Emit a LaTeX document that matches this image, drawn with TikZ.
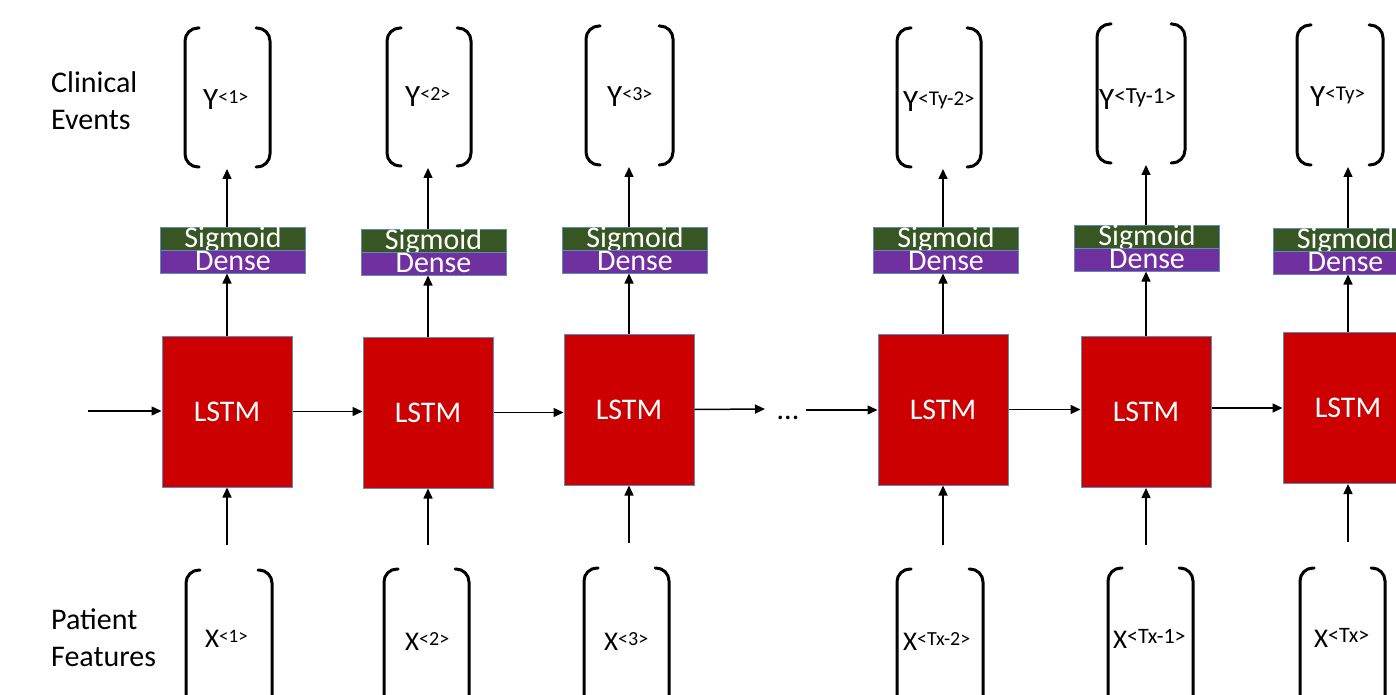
\documentclass[tikz,border=0pt]{standalone}
\usepackage{fontspec}
\setmainfont{Carlito}
\usetikzlibrary{arrows.meta}
\definecolor{lstmred}{HTML}{CC0000}
\definecolor{sigcol}{HTML}{375623}
\definecolor{dencol}{HTML}{7030A0}
\definecolor{bordc}{HTML}{5B8DB8}
\newcommand\mybrk[4]{%
  \draw[brk] (#1+14,#3) -- (#1,#3) -- (#1,#4) -- (#1+14,#4);
  \draw[brk] (#2-14,#3) -- (#2,#3) -- (#2,#4) -- (#2-14,#4);}
\newcommand\ylab[2]{\fontsize{31}{36}\selectfont Y{\fontsize{#1}{24}\selectfont\raisebox{6pt}{#2}}}
\newcommand\xlab[2]{\fontsize{27}{32}\selectfont X{\fontsize{#1}{22}\selectfont\raisebox{5pt}{#2}}}
\newcommand\bigf{\fontsize{30}{37}\selectfont}
\begin{document}
\begin{tikzpicture}[x=1pt,y=-1pt,
  brk/.style={line width=3pt,rounded corners=13pt,line cap=round},
  arr/.style={line width=1.5pt,-{Triangle[length=10pt,width=9pt]}},
  lstm/.style={draw=bordc,line width=1pt,fill=lstmred,minimum width=130pt,minimum height=151pt,inner sep=0pt,text=white,font=\bigf},
  band/.style={draw=bordc,line width=1pt,minimum width=145pt,minimum height=23pt,inner sep=0pt,text=white,font=\bigf,text height=18pt,text depth=0pt},
  sig/.style={band,fill=sigcol},
  den/.style={band,fill=dencol},
  lab/.style={inner sep=0pt,anchor=base west},
  side/.style={inner sep=0pt,anchor=base west,font=\bigf}]
\useasboundingbox (0,0) rectangle (1396,695);
\clip (0,0) rectangle (1396,695);

% side labels
\node[side] (ce1) at (51,93) {Clinical};
\node[side] (ce2) at (51,130) {Events};
\node[side] (pf1) at (51,629) {Patient};
\node[side] (pf2) at (51,666) {Features};

% LSTM cells
\node[lstm] (l1) at (227,411.5) {LSTM};
\node[lstm] (l2) at (428,412.5) {LSTM};
\node[lstm] (l3) at (629,409.5) {LSTM};
\node[lstm] (l4) at (943,409.5) {LSTM};
\node[lstm] (l5) at (1146,412) {LSTM};
\node[lstm] (l6) at (1348,408) {LSTM};

% Sigmoid / Dense
\node[sig] (s1) at (233,238.5) {Sigmoid};
\node[den] (d1) at (233,261.5) {Dense};
\node[sig] (s2) at (433.5,240.5) {Sigmoid};
\node[den] (d2) at (433.5,263.5) {Dense};
\node[sig] (s3) at (635,238.5) {Sigmoid};
\node[den] (d3) at (635,261.5) {Dense};
\node[sig] (s4) at (946,238.5) {Sigmoid};
\node[den] (d4) at (946,261.5) {Dense};
\node[sig] (s5) at (1147,236.5) {Sigmoid};
\node[den] (d5) at (1147,259.5) {Dense};
\node[sig] (s6) at (1345.5,239.5) {Sigmoid};
\node[den] (d6) at (1345.5,262.5) {Dense};

% Y brackets and labels
\mybrk{185}{270}{28}{167}
\mybrk{387}{471}{28}{166}
\mybrk{586}{673}{26}{165}
\mybrk{897}{981}{28}{167}
\mybrk{1097}{1185}{24}{163}
\mybrk{1297}{1383}{25}{165}
\node[lab] (y1) at (203,110) {\ylab{20}{<1>}};
\node[lab] (y2) at (405,107) {\ylab{20}{<2>}};
\node[lab] (y3) at (607,107) {\ylab{20}{<3>}};
\node[lab] (y4) at (903,112) {\ylab{21}{<Ty-2>}};
\node[lab] (y5) at (1099,110) {\ylab{23}{<Ty-1>}};
\node[lab] (y6) at (1310,107) {\ylab{21}{<Ty>}};
\coordinate (yb1) at (227,169);
\coordinate (yb2) at (428,168);
\coordinate (yb3) at (629,167);
\coordinate (yb4) at (943,169);
\coordinate (yb5) at (1146,165);
\coordinate (yb6) at (1348,167);

% X brackets and labels
\mybrk{186}{272}{570}{730}
\mybrk{384}{469}{569}{730}
\mybrk{584}{669}{568}{730}
\mybrk{897}{983}{569}{730}
\mybrk{1108}{1193}{568}{730}
\mybrk{1300}{1385}{568}{730}
\node[lab] (x1) at (205,647) {\xlab{19}{<1>}};
\node[lab] (x2) at (405,650) {\xlab{20}{<2>}};
\node[lab] (x3) at (604,650) {\xlab{20}{<3>}};
\node[lab] (x4) at (903,650) {\xlab{20}{<Tx-2>}};
\node[lab] (x5) at (1113,648) {\xlab{22}{<Tx-1>}};
\node[lab] (x6) at (1314,647) {\xlab{22}{<Tx>}};
\coordinate (xa1) at (227,545);
\coordinate (xa2) at (428,545);
\coordinate (xa3) at (629,543);
\coordinate (xa4) at (943,545);
\coordinate (xa5) at (1146,545);
\coordinate (xa6) at (1348,542);

% dots
\node[inner sep=0pt,anchor=base,font=\bigf] (dots) at (788,419) {...};
\coordinate (in) at (88,411);
\coordinate (da) at (765,409);
\coordinate (db) at (806,410);

% horizontal arrows
\draw[arr] (in) -- (in -| l1.west);
\draw[arr] (l1.east) -- (l1.east -| l2.west);
\draw[arr] (l2.east) -- (l2.east -| l3.west);
\draw[arr] (l3.east) -- (da);
\draw[arr] (db) -- (db -| l4.west);
\draw[arr] (l4.east) -- (l4.east -| l5.west);
\draw[arr] (l5.east |- l6.east) -- (l6.west);

% vertical arrows
\foreach \i in {1,...,6}{
  \draw[arr] (xa\i) -- (xa\i |- l\i.south);
  \draw[arr] (l\i.north) -- (l\i.north |- d\i.south);
  \draw[arr] (l\i.north |- s\i.north) -- (yb\i);
}
\end{tikzpicture}
\end{document}
